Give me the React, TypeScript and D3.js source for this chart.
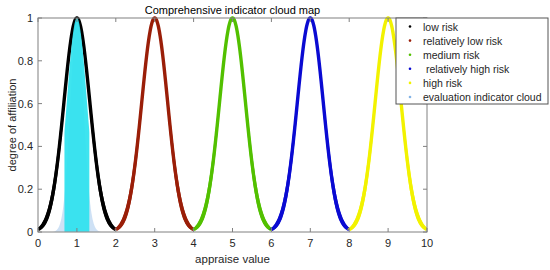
import React from "react";
import * as d3 from "d3";

// cloud parameters (Ex, En, He)
const cloudNames = ["low risk", "relatively low risk", "medium risk", " relatively high risk", "high risk"];
const cloudEx = [1, 3, 5, 7, 9];
const cloudEn = [0.333, 0.333, 0.333, 0.333, 0.333];
const cloudHe = [0.012, 0.012, 0.012, 0.012, 0.012];

const evalName = "evaluation indicator cloud";
const evalEx = 1.0;
const evalEn = [0.26, 0.17];
const evalSpread = [0.32, 0.6];

const xTicks = [0, 1, 2, 3, 4, 5, 6, 7, 8, 9, 10];
const yTicks = [0, 0.2, 0.4, 0.6, 0.8, 1];

const cloudColors = ["#000000", "#9a1e08", "#52c000", "#0a0ad2", "#f2f200"];
const evalColor = "#2ee2ee";
const evalLegendColor = "#84b4e6";

const W = 550, H = 270;
const margin = { top: 18, right: 123, bottom: 38, left: 38 };
const font = "Arial, 'Liberation Sans', sans-serif";

export default function App() {
    const x = d3.scaleLinear().domain([0, 10]).range([margin.left, W - margin.right]);
    const y = d3.scaleLinear().domain([0, 1]).range([H - margin.bottom, margin.top]);

    const ts = d3.range(0, 3.0001, 0.02);
    const line = d3.line<[number, number]>().x(d => x(d[0])).y(d => y(d[1]));

    const clouds = cloudEx.map((ex, i) => {
        const en = cloudEn[i], he = cloudHe[i];
        const pts: [number, number][] = ts.slice().reverse().map(t => [ex - en * t, Math.exp(-t * t / 2)] as [number, number])
            .concat(ts.map(t => [ex + en * t, Math.exp(-t * t / 2)] as [number, number]));
        const band = (side: number) => d3.area<number>()
            .y(t => y(Math.exp(-t * t / 2)))
            .x0(t => x(ex + side * (en - 2 * he) * t))
            .x1(t => x(ex + side * (en + 2 * he) * t))(ts);
        return { d: line(pts), left: band(-1), right: band(1), color: cloudColors[i] };
    });

    const te = d3.range(0, 3.6001, 0.02);
    const evalAreas = evalEn.map((en, k) => d3.area<number>()
        .y(t => y(Math.exp(-t * t / 2)))
        .x0(t => x(evalEx - Math.min(en * t, evalSpread[k])))
        .x1(t => x(evalEx + Math.min(en * t, evalSpread[k])))(te));

    const x0 = margin.left, x1 = W - margin.right, y0 = H - margin.bottom, y1 = margin.top;
    const axisColor = "#808080";
    const tickLen = 4;

    const legendItems = cloudNames.map((n, i) => ({ name: n, color: cloudColors[i] }))
        .concat([{ name: evalName, color: evalLegendColor }]);
    const lx = 396, ly = 18, lw = 152, lh = 86;

    return (
        <svg width={W} height={H} style={{ position: "absolute", left: 0, top: 0, background: "#fff" }}
            fontFamily={font}>
            <defs>
                <clipPath id="plot">
                    <rect x={x0} y={y1 - 3} width={x1 - x0} height={y0 - y1 + 3} />
                </clipPath>
            </defs>
            <rect x={0} y={0} width={W} height={H} fill="#fff" />
            <g clipPath="url(#plot)">
                {clouds.map((c, i) => (
                    <g key={i}>
                        <path d={c.left ?? ""} fill={c.color} />
                        <path d={c.right ?? ""} fill={c.color} />
                        <path d={c.d ?? ""} fill="none" stroke={c.color} strokeWidth={3.4} strokeLinejoin="round" />
                    </g>
                ))}
                <path d={evalAreas[1] ?? ""} fill={evalLegendColor} opacity={0.4} />
                <path d={evalAreas[0] ?? ""} fill={evalColor} opacity={0.92} />
            </g>

            {/* box and ticks */}
            <rect x={x0} y={y1} width={x1 - x0} height={y0 - y1} fill="none" stroke={axisColor} strokeWidth={1} />
            {xTicks.map(t => (
                <g key={"x" + t}>
                    <line x1={x(t)} x2={x(t)} y1={y0} y2={y0 - tickLen} stroke={axisColor} />
                    <line x1={x(t)} x2={x(t)} y1={y1} y2={y1 + tickLen} stroke={axisColor} />
                    <text x={x(t)} y={y0 + 15} textAnchor="middle" fontSize={11} fill="#262626">{t}</text>
                </g>
            ))}
            {yTicks.map(t => (
                <g key={"y" + t}>
                    <line x1={x0} x2={x0 + tickLen} y1={y(t)} y2={y(t)} stroke={axisColor} />
                    <line x1={x1} x2={x1 - tickLen} y1={y(t)} y2={y(t)} stroke={axisColor} />
                    <text x={x0 - 5} y={y(t) + 4} textAnchor="end" fontSize={11} fill="#262626">{t}</text>
                </g>
            ))}

            <text x={(x0 + x1) / 2} y={14} textAnchor="middle" fontSize={11} fill="#000">Comprehensive indicator cloud map</text>
            <text x={(x0 + x1) / 2} y={263} textAnchor="middle" fontSize={11.5} fill="#262626">appraise value</text>
            <text transform={`translate(15.5,${(y0 + y1) / 2}) rotate(-90)`} textAnchor="middle" fontSize={11} fill="#262626">degree of affiliation</text>

            {/* legend */}
            <rect x={lx} y={ly} width={lw} height={lh} fill="#fff" stroke="#555" strokeWidth={1} />
            {legendItems.map((it, i) => (
                <g key={i}>
                    <circle cx={lx + 14} cy={ly + 8.5 + i * 14.1} r={1.3} fill={it.color} />
                    <text x={lx + 27} y={ly + 12.5 + i * 14.1} fontSize={10.5} fill="#262626" style={{ whiteSpace: "pre" }}>{it.name}</text>
                </g>
            ))}
        </svg>
    );
}
